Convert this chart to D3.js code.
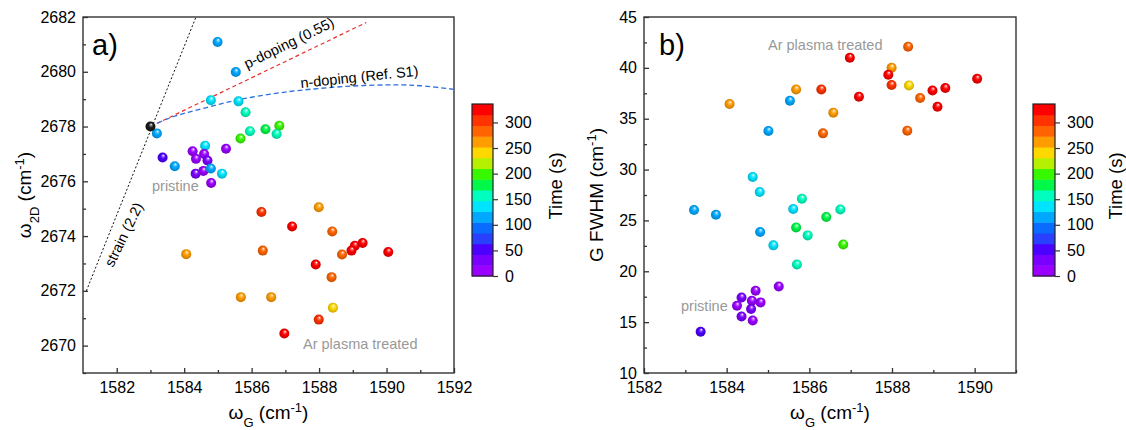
<!DOCTYPE html>
<html><head><meta charset="utf-8">
<script src="https://cdn.jsdelivr.net/npm/d3@7"></script>
<style>
body{margin:0;background:#fff;}
svg{font-family:"Liberation Sans",Arial,sans-serif;}
</style></head><body>
<svg id="chart" width="1126" height="430"></svg>
<script>
// ---------- Data ----------
// Panel a: omega_2D vs omega_G
const aOmegaG = [1584.99,1585.53,1584.79,1585.61,1585.82,1586.41,1586.82,1586.74,1585.95,1585.67,
  1583.19,1583.36,1583.72,1584.25,1584.35,1584.62,1584.59,1585.24,1584.69,1584.34,1584.57,1584.79,1585.12,1584.80,
  1586.29,1587.99,1587.20,1588.39,1589.06,1589.29,1588.96,1590.05,1586.33,1584.06,1588.68,1587.90,1588.37,1585.68,1586.58,1588.41,1587.99,1586.97];
const aOmega2D = [2681.09,2679.99,2678.96,2678.92,2678.52,2677.90,2678.03,2677.73,2677.83,2677.56,
  2677.75,2676.87,2676.55,2677.10,2676.82,2677.30,2677.00,2677.19,2676.76,2676.28,2676.38,2676.47,2676.28,2675.94,
  2674.88,2675.05,2674.35,2674.17,2673.65,2673.75,2673.47,2673.42,2673.47,2673.34,2673.33,2672.96,2672.50,2671.77,2671.77,2671.38,2670.95,2670.44];
const aTime = [115,110,135,135,155,185,190,155,155,195,
  110,50,115,20,15,135,20,15,25,30,20,115,135,20,
  305,260,325,285,325,325,325,325,285,260,285,325,285,260,260,240,305,325];
// pristine reference point (black)
const refOmegaG = [1583.0];
const refOmega2D = [2678.0];
// guide lines
const strainX = [1581.1, 1584.35];
const strainY = [2672.0, 2682.0];
const pDopingX = [1583.0, 1589.4];
const pDopingY = [2678.0, 2681.8];
const nDopingX = [1583.0,1583.5,1584.0,1584.5,1585.0,1585.5,1586.0,1587.0,1588.0,1589.0,1590.0,1590.5,1591.0,1592.0];
const nDopingY = [2678.0,2678.28,2678.48,2678.64,2678.8,2678.95,2679.07,2679.26,2679.39,2679.48,2679.52,2679.52,2679.49,2679.36];

// Panel b: G FWHM vs omega_G
const bOmegaG = [1586.98,1585.68,1586.29,1587.20,1584.07,1585.53,1586.58,1585.01,1586.33,1584.63,1584.80,1585.82,1583.21,1583.74,1585.61,1586.75,1586.41,
  1588.39,1587.99,1587.91,1587.99,1588.41,1588.98,1589.29,1590.06,1588.68,1589.10,1588.37,
  1585.68,1585.96,1584.81,1585.13,1586.82,1585.70,
  1585.26,1584.70,1584.36,1584.25,1584.61,1584.82,1584.59,1584.36,1584.63,1583.37];
const bFWHM = [41.0,37.88,37.88,37.16,36.44,36.77,35.59,33.79,33.56,29.27,27.79,27.13,26.02,25.56,26.12,26.08,25.33,
  42.08,40.01,39.33,38.31,38.27,37.78,38.02,38.93,37.03,36.18,33.82,
  24.31,23.53,23.86,22.55,22.64,20.67,
  18.51,18.09,17.43,16.61,17.10,16.94,16.29,15.56,15.17,14.06];
const bTime = [325,260,305,325,260,115,260,115,285,135,135,155,110,110,135,155,185,
  285,260,325,305,240,325,325,325,285,325,285,
  185,155,110,135,190,155,
  20,15,25,20,15,20,25,30,20,50];

// Colour bar
const timeColors = ['#9a00ff','#7a00ff','#4c00ff','#2a40ff','#0a6cff','#00a8ff','#00e4ff','#00ffbe',
  '#00f848','#38f800','#b4f000','#ffd800','#ff9c00','#ff6400','#ff3200','#ff0000'];
const timeDomain = [0, 336];
const timeTicks = [0,50,100,150,200,250,300];

// Axis ticks
const aXTicks = [1582,1584,1586,1588,1590,1592];
const aXMinor = [1583,1585,1587,1589,1591];
const aYTicks = [2670,2672,2674,2676,2678,2680,2682];
const aYMinor = [2669,2671,2673,2675,2677,2679,2681];
const bXTicks = [1582,1584,1586,1588,1590];
const bXMinor = [1583,1585,1587,1589,1591];
const bYTicks = [10,15,20,25,30,35,40,45];
const bYMinor = [12.5,17.5,22.5,27.5,32.5,37.5,42.5];

// ---------- Drawing ----------
const svg = d3.select('#chart');
const defs = svg.append('defs');
const colorScale = d3.scaleQuantize().domain(timeDomain).range(timeColors);

function makeGrad(id, c){
  const g = defs.append('radialGradient').attr('id', id)
    .attr('cx','50%').attr('cy','50%').attr('r','55%').attr('fx','58%').attr('fy','28%');
  g.append('stop').attr('offset','0%').attr('stop-color','#ffffff');
  g.append('stop').attr('offset','20%').attr('stop-color', d3.interpolateRgb(c,'#ffffff')(0.4));
  g.append('stop').attr('offset','45%').attr('stop-color', c);
  g.append('stop').attr('offset','100%').attr('stop-color', d3.color(c).darker(0.8).formatHex());
}
timeColors.forEach((c,i)=>makeGrad('sph'+i, c));
makeGrad('sphK', '#1a1a1a');
const gradFor = t => 'url(#sph' + timeColors.indexOf(colorScale(t)) + ')';

const AX = '#333';
const TICKFONT = '16px';

function axes(o, x, y){
  const g = svg.append('g').attr('color', AX);
  const strip = s => { s.select('.domain').remove(); s.selectAll('text').attr('fill','#000').style('font-size',TICKFONT); s.selectAll('line').attr('stroke-width',1.3); };
  g.append('g').attr('transform',`translate(0,${o.bottom})`)
    .call(d3.axisBottom(x).tickValues(o.xMinor).tickSize(-3).tickFormat('')).call(strip);
  g.append('g').attr('transform',`translate(0,${o.bottom})`)
    .call(d3.axisBottom(x).tickValues(o.xTicks).tickSize(-5).tickPadding(o.xPad).tickFormat(d3.format('d'))).call(strip);
  g.append('g').attr('transform',`translate(${o.left},0)`)
    .call(d3.axisLeft(y).tickValues(o.yMinor).tickSize(-3).tickFormat('')).call(strip);
  g.append('g').attr('transform',`translate(${o.left},0)`)
    .call(d3.axisLeft(y).tickValues(o.yTicks).tickSize(-5).tickPadding(o.yPad).tickFormat(d3.format('d'))).call(strip);
  svg.append('rect').attr('x',o.left).attr('y',o.top).attr('width',o.right-o.left).attr('height',o.bottom-o.top)
    .attr('fill','none').attr('stroke',AX).attr('stroke-width',1.4);
}

function spheres(g, xs, ys, ts, x, y, fixedFill){
  g.selectAll(null).data(xs.map((d,i)=>({x:d,y:ys[i],t:ts?ts[i]:0}))).enter().append('circle')
    .attr('cx',d=>x(d.x)).attr('cy',d=>y(d.y)).attr('r',5)
    .attr('fill', d=> fixedFill || gradFor(d.t));
}

function colorbar(o){
  const cy = d3.scaleLinear().domain(timeDomain).range([o.bottom, o.top]);
  const g = svg.append('g');
  const step = (timeDomain[1]-timeDomain[0])/timeColors.length;
  g.selectAll(null).data(timeColors).enter().append('rect')
    .attr('x',o.left).attr('width',o.right-o.left)
    .attr('y',(d,i)=>cy((i+1)*step)).attr('height',(d,i)=>cy(i*step)-cy((i+1)*step)+0.5)
    .attr('fill',d=>d);
  g.append('rect').attr('x',o.left).attr('y',o.top).attr('width',o.right-o.left).attr('height',o.bottom-o.top)
    .attr('fill','none').attr('stroke','#222').attr('stroke-width',1.2);
  const ax = g.append('g').attr('color',AX).attr('transform',`translate(${o.right},0)`)
    .call(d3.axisRight(cy).tickValues(timeTicks).tickSize(5).tickPadding(7));
  ax.select('.domain').remove();
  ax.selectAll('text').attr('fill','#000').style('font-size',TICKFONT);
  ax.selectAll('line').attr('stroke-width',1.2);
  g.append('text').attr('transform',`translate(${o.titleX},${(o.top+o.bottom)/2 - 4}) rotate(-90)`)
    .attr('text-anchor','middle').style('font-size','18.5px').attr('fill','#000').text('Time (s)');
}

function ylabel(x, cy, parts){
  const t = svg.append('text').attr('transform',`translate(${x},${cy}) rotate(-90)`)
    .attr('text-anchor','middle').style('font-size','19px').attr('fill','#000');
  parts.forEach(p=>{
    const s = t.append('tspan').text(p[0]);
    if(p[1]){ s.attr('baseline-shift',p[1]).style('font-size','13px'); }
  });
}
function xlabel(cx, y, parts){
  const t = svg.append('text').attr('x',cx).attr('y',y)
    .attr('text-anchor','middle').style('font-size','19px').attr('fill','#000');
  parts.forEach(p=>{
    const s = t.append('tspan').text(p[0]);
    if(p[1]){ s.attr('baseline-shift',p[1]).style('font-size','13px'); }
  });
}

// ----- Panel a -----
const A = {left:83,right:454,top:17,bottom:373, xTicks:aXTicks,xMinor:aXMinor,yTicks:aYTicks,yMinor:aYMinor, xPad:9, yPad:7};
const ax = d3.scaleLinear().domain([1581,1592]).range([A.left,A.right]);
const ay = d3.scaleLinear().domain([2669,2682]).range([A.bottom,A.top]);
axes(A, ax, ay);
defs.append('clipPath').attr('id','clipA').append('rect').attr('x',A.left).attr('y',A.top).attr('width',A.right-A.left).attr('height',A.bottom-A.top);
const gA = svg.append('g').attr('clip-path','url(#clipA)');
const line = (x,y)=>d3.line().x(d=>x(d[0])).y(d=>y(d[1]));
gA.append('path').attr('d', line(ax,ay)(strainX.map((d,i)=>[d,strainY[i]])))
  .attr('fill','none').attr('stroke','#111').attr('stroke-width',1).attr('stroke-dasharray','2,2');
gA.append('path').attr('d', line(ax,ay)(pDopingX.map((d,i)=>[d,pDopingY[i]])))
  .attr('fill','none').attr('stroke','#e8302a').attr('stroke-width',1.2).attr('stroke-dasharray','4,3');
gA.append('path').attr('d', line(ax,ay).curve(d3.curveCatmullRom)(nDopingX.map((d,i)=>[d,nDopingY[i]])))
  .attr('fill','none').attr('stroke','#2f6fdc').attr('stroke-width',1.3).attr('stroke-dasharray','5,3');
spheres(gA, aOmegaG, aOmega2D, aTime, ax, ay);
spheres(gA, refOmegaG, refOmega2D, null, ax, ay, 'url(#sphK)');

svg.append('text').attr('x',92).attr('y',55).style('font-size','29px').attr('fill','#000').text('a)');
svg.append('text').attr('transform','translate(247,69) rotate(-26)').style('font-size','14.5px').attr('fill','#000').text('p-doping (0.55)');
svg.append('text').attr('transform','translate(301,88) rotate(-6)').style('font-size','14.5px').attr('fill','#000').text('n-doping (Ref. S1)');
svg.append('text').attr('transform','translate(113,268) rotate(-64)').style('font-size','14.5px').attr('fill','#000').text('strain (2.2)');
svg.append('text').attr('x',152).attr('y',191).style('font-size','14.5px').attr('fill','#999').text('pristine');
svg.append('text').attr('x',303).attr('y',349).style('font-size','14.5px').attr('fill','#999').text('Ar plasma treated');

ylabel(31, 195, [['ω'],['2D','sub'],[' (cm'],['-1','super'],[')']]);
xlabel((A.left+A.right)/2, 419, [['ω'],['G','sub'],[' (cm'],['-1','super'],[')']]);
colorbar({left:472,right:493,top:104,bottom:276,titleX:562});

// ----- Panel b -----
const B = {left:644,right:1016,top:17,bottom:373, xTicks:bXTicks,xMinor:bXMinor,yTicks:bYTicks,yMinor:bYMinor, xPad:9, yPad:7};
const bx = d3.scaleLinear().domain([1582,1591]).range([B.left,B.right]);
const by = d3.scaleLinear().domain([10,45]).range([B.bottom,B.top]);
axes(B, bx, by);
defs.append('clipPath').attr('id','clipB').append('rect').attr('x',B.left).attr('y',B.top).attr('width',B.right-B.left).attr('height',B.bottom-B.top);
const gB = svg.append('g').attr('clip-path','url(#clipB)');
spheres(gB, bOmegaG, bFWHM, bTime, bx, by);

svg.append('text').attr('x',659).attr('y',55).style('font-size','29px').attr('fill','#000').text('b)');
svg.append('text').attr('x',768).attr('y',50).style('font-size','14.5px').attr('fill','#999').text('Ar plasma treated');
svg.append('text').attr('x',681).attr('y',311).style('font-size','14.5px').attr('fill','#999').text('pristine');

ylabel(603, 195, [['G FWHM (cm'],['-1','super'],[')']]);
xlabel((B.left+B.right)/2, 419, [['ω'],['G','sub'],[' (cm'],['-1','super'],[')']]);
colorbar({left:1033,right:1055,top:104,bottom:276,titleX:1122});
</script>
</body></html>
